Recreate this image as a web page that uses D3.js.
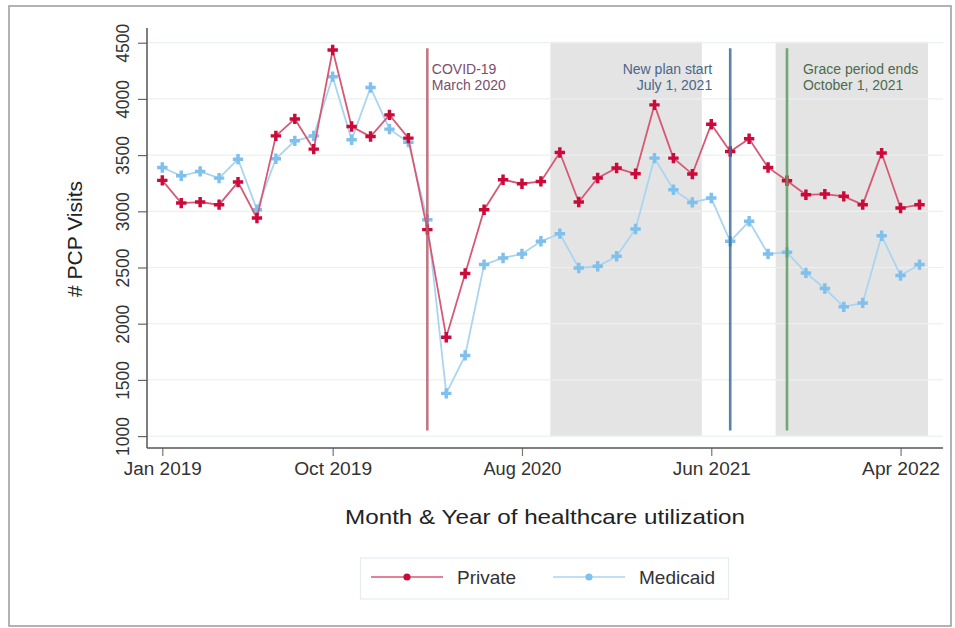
<!DOCTYPE html>
<html>
<head>
<meta charset="utf-8">
<script src="https://cdn.jsdelivr.net/npm/d3@7"></script>
<style>
  html, body { margin: 0; padding: 0; background: #fff; }
  svg { display: block; font-family: "Liberation Sans", Arial, sans-serif; }
</style>
</head>
<body>
<svg id="chart" width="955" height="628"></svg>
<script>
// ---------- data ----------
const months = ["Jan 2019","Feb 2019","Mar 2019","Apr 2019","May 2019","Jun 2019","Jul 2019","Aug 2019","Sep 2019","Oct 2019","Nov 2019","Dec 2019",
  "Jan 2020","Feb 2020","Mar 2020","Apr 2020","May 2020","Jun 2020","Jul 2020","Aug 2020","Sep 2020","Oct 2020","Nov 2020","Dec 2020",
  "Jan 2021","Feb 2021","Mar 2021","Apr 2021","May 2021","Jun 2021","Jul 2021","Aug 2021","Sep 2021","Oct 2021","Nov 2021","Dec 2021",
  "Jan 2022","Feb 2022","Mar 2022","Apr 2022","May 2022"];
const privateVisits = [3275,3073,3082,3059,3260,2940,3671,3822,3553,4435,3754,3665,3858,3651,2837,1880,2446,3014,3281,3245,3266,3523,3083,3296,3385,3334,3947,3473,3331,3775,3532,3645,3390,3272,3147,3153,3133,3059,3518,3029,3059];
const medicaidVisits = [3390,3316,3355,3295,3464,3014,3467,3627,3671,4198,3636,4101,3731,3615,2925,1380,1718,2526,2585,2621,2733,2801,2496,2511,2600,2843,3473,3192,3079,3118,2733,2911,2621,2635,2452,2313,2150,2185,2783,2428,2526];
const xTickLabels = ["Jan 2019","Oct 2019","Aug 2020","Jun 2021","Apr 2022"];
const yTicks = [1000,1500,2000,2500,3000,3500,4000,4500];
const shadedStart = [20.5, 32.4];   // month index
const shadedEnd   = [28.5, 40.45];
const eventMonth  = ["Mar 2020","Jul 2021","Oct 2021"];
const eventLabels = [["COVID-19","March 2020"],["New plan start","July 1, 2021"],["Grace period ends","October 1, 2021"]];
const seriesNames = ["Private","Medicaid"];

// ---------- layout ----------
const svg = d3.select("#chart");
const x = d3.scaleLinear().domain([0, months.length - 1]).range([162.3, 919.5]);
const y = d3.scaleLinear().domain([1000, 4500]).range([436.1, 42.7]);
const axisLeftX = 147, axisBottomY = 448, plotRight = 943, plotTop = 28;

// outer frame
svg.append("rect").attr("x", 9).attr("y", 6).attr("width", 942).attr("height", 620)
  .attr("fill", "#fff").attr("stroke", "#9a9a9a").attr("stroke-width", 1.5);

// shaded periods
svg.append("g").selectAll("rect").data(shadedStart).join("rect")
  .attr("x", (d) => x(d))
  .attr("width", (d, i) => x(shadedEnd[i]) - x(d))
  .attr("y", y(4500) - 1)
  .attr("height", y(1000) - y(4500) + 1)
  .attr("fill", "#e4e4e4");

// gridlines
svg.append("g").selectAll("line").data(yTicks).join("line")
  .attr("x1", axisLeftX).attr("x2", plotRight)
  .attr("y1", (d) => y(d)).attr("y2", (d) => y(d))
  .attr("stroke", "#e9f1f3").attr("stroke-width", 1.2);

// axes
const yAxis = svg.append("g").attr("transform", `translate(${axisLeftX},0)`)
  .call(d3.axisLeft(y).tickValues(yTicks).tickSize(9).tickPadding(0).tickFormat(d3.format("d")));
yAxis.select(".domain").remove();
yAxis.selectAll(".tick line").attr("stroke", "#666").attr("stroke-width", 1.2);
yAxis.selectAll(".tick text")
  .attr("transform", "rotate(-90)").attr("x", 0).attr("y", -18).attr("dy", 0)
  .attr("text-anchor", "middle").attr("font-size", 17.5).attr("fill", "#333");
svg.append("line").attr("x1", axisLeftX).attr("x2", axisLeftX).attr("y1", plotTop).attr("y2", axisBottomY)
  .attr("stroke", "#555").attr("stroke-width", 1.5);

const tickIdx = xTickLabels.map((l) => months.indexOf(l));
const xAxis = svg.append("g").attr("transform", `translate(0,${axisBottomY})`)
  .call(d3.axisBottom(x).tickValues(tickIdx).tickSize(8).tickPadding(4).tickFormat((d) => months[d]));
xAxis.select(".domain").remove();
xAxis.selectAll(".tick line").attr("stroke", "#777").attr("stroke-width", 1.2);
xAxis.selectAll(".tick text").attr("font-size", 18).attr("fill", "#333").attr("dy", "0.85em")
  .attr("textLength", 78).attr("lengthAdjust", "spacingAndGlyphs");
svg.append("line").attr("x1", axisLeftX).attr("x2", plotRight).attr("y1", axisBottomY).attr("y2", axisBottomY)
  .attr("stroke", "#555").attr("stroke-width", 1.5);

// axis titles
svg.append("text").attr("x", 545).attr("y", 524).attr("text-anchor", "middle")
  .attr("font-size", 21).attr("fill", "#222")
  .attr("textLength", 400).attr("lengthAdjust", "spacingAndGlyphs")
  .text("Month & Year of healthcare utilization");
svg.append("text").attr("transform", "translate(82,239) rotate(-90)").attr("text-anchor", "middle")
  .attr("font-size", 21).attr("fill", "#222").text("# PCP Visits");

// series
const colors = { line: ["#d65a75", "#a9d5f1"], marker: ["#cc0a3a", "#7fc0ec"] };
const allSeries = [privateVisits, medicaidVisits];
const lineGen = d3.line().x((d, i) => x(i)).y((d) => y(d));
const symbol = d3.symbol().type(d3.symbolCross).size(60);

[1, 0].forEach((s) => {
  const g = svg.append("g");
  g.append("path").attr("d", lineGen(allSeries[s])).attr("fill", "none")
    .attr("stroke", colors.line[s]).attr("stroke-width", 1.8);
  g.selectAll("path.m").data(allSeries[s]).join("path").attr("class", "m")
    .attr("d", symbol).attr("transform", (d, i) => `translate(${x(i)},${y(d)})`)
    .attr("fill", colors.marker[s]);
});

// event lines and labels
const evColor = ["#b9606d", "#3f6d98", "#5e9e5e"];
const evText = ["#7d4d6a", "#4a6689", "#4b6b4c"];
const evDx = [4.5, -18, 16];
const evAnchor = ["start", "end", "start"];
eventMonth.forEach((m, i) => {
  const xi = x(months.indexOf(m));
  svg.append("line").attr("x1", xi).attr("x2", xi).attr("y1", y(4450)).attr("y2", y(1050))
    .attr("stroke", evColor[i]).attr("stroke-width", 2.6).attr("opacity", 0.85);
  eventLabels[i].forEach((line, j) => {
    svg.append("text").attr("x", xi + evDx[i]).attr("y", 73.5 + j * 16.5)
      .attr("text-anchor", evAnchor[i]).attr("font-size", 14).attr("fill", evText[i]).text(line);
  });
});

// legend
const leg = svg.append("g");
leg.append("rect").attr("x", 360.5).attr("y", 558).attr("width", 368).attr("height", 41)
  .attr("fill", "#fff").attr("stroke", "#e6edf0").attr("stroke-width", 1.2);
const legX = [371, 553];
const legTextX = [457, 639];
seriesNames.forEach((name, i) => {
  leg.append("line").attr("x1", legX[i]).attr("x2", legX[i] + 72).attr("y1", 577).attr("y2", 577)
    .attr("stroke", colors.line[i]).attr("stroke-width", 1.6);
  leg.append("path").attr("d", d3.symbol().type(d3.symbolCircle).size(40)())
    .attr("transform", `translate(${legX[i] + 36},577)`).attr("fill", colors.marker[i]);
  leg.append("text").attr("x", legTextX[i]).attr("y", 584).attr("font-size", 19)
    .attr("fill", "#333").text(name);
});
</script>
</body>
</html>
